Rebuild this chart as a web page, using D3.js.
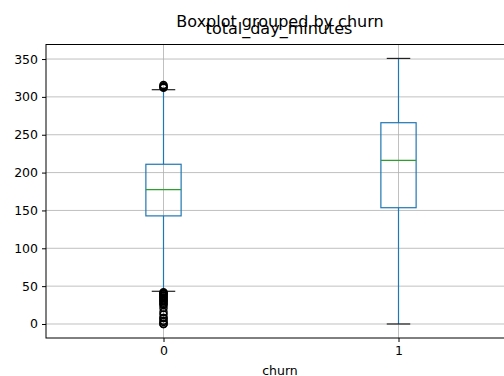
<!DOCTYPE html>
<html>
<head>
<meta charset="utf-8">
<script src="https://cdn.jsdelivr.net/npm/d3@7"></script>
<style>
  body { margin: 0; background: #fff; }
  svg { display: block; font-family: "DejaVu Sans", sans-serif; }
</style>
</head>
<body>
<div id="chart-area"></div>
<script>
// churn groups and box statistics of total_day_minutes
var groups = ["0", "1"];
var q1 = [142.8, 153.6];
var medians = [177.4, 216.2];
var q3 = [211.0, 265.9];
var whiskLow = [43.2, 0];
var whiskHigh = [309.5, 350.8];
var fliers = [
    [312.0, 313.2, 314.1, 315.6,
     0, 0, 2.6, 4.2, 7.8, 7.9, 12.5, 16.0, 21.0, 25.0, 26.5, 28.0, 29.9,
     30.9, 32.5, 34.0, 35.1, 36.5, 37.8, 39.5, 40.4, 40.9, 41.9],
    []
];
var yTicks = [0, 50, 100, 150, 200, 250, 300, 350];

var width = 504, height = 376;
var plot = { left: 46, right: 516, top: 44.5, bottom: 338 };

var svg = d3.select("#chart-area")
    .append("svg")
        .attr("width", width)
        .attr("height", height);

var x = d3.scaleLinear()
    .domain([-0.5, 1.5])
    .range([plot.left, plot.right]);
var y = d3.scaleLinear()
    .domain([-18.5, 369.2])
    .range([plot.bottom, plot.top]);

// Grid
var grid = svg.append("g").attr("stroke", "#b0b0b0").attr("stroke-width", 0.8);
yTicks.forEach(function(t){
    grid.append("line")
        .attr("x1", plot.left).attr("x2", plot.right)
        .attr("y1", y(t)).attr("y2", y(t));
});
groups.forEach(function(gr, i){
    grid.append("line")
        .attr("x1", x(i)).attr("x2", x(i))
        .attr("y1", plot.top).attr("y2", plot.bottom);
});

// Boxes
var halfW = 0.075;
groups.forEach(function(gr, i){
    var b = svg.append("g");
    b.append("line")
        .attr("x1", x(i)).attr("x2", x(i))
        .attr("y1", y(q1[i])).attr("y2", y(whiskLow[i]))
        .attr("stroke", "#1f77b4").attr("stroke-width", 1.2);
    b.append("line")
        .attr("x1", x(i)).attr("x2", x(i))
        .attr("y1", y(q3[i])).attr("y2", y(whiskHigh[i]))
        .attr("stroke", "#1f77b4").attr("stroke-width", 1.2);
    [whiskLow[i], whiskHigh[i]].forEach(function(v){
        b.append("line")
            .attr("x1", x(i - halfW / 2 - 0.0125)).attr("x2", x(i + halfW / 2 + 0.0125))
            .attr("y1", y(v)).attr("y2", y(v))
            .attr("stroke", "#222").attr("stroke-width", 1.2);
    });
    b.append("rect")
        .attr("x", x(i - halfW))
        .attr("y", y(q3[i]))
        .attr("width", x(i + halfW) - x(i - halfW))
        .attr("height", y(q1[i]) - y(q3[i]))
        .attr("fill", "none")
        .attr("stroke", "#1f77b4").attr("stroke-width", 1.2);
    b.append("line")
        .attr("x1", x(i - halfW)).attr("x2", x(i + halfW))
        .attr("y1", y(medians[i])).attr("y2", y(medians[i]))
        .attr("stroke", "#2ca02c").attr("stroke-width", 1.2);
    b.selectAll("circle").data(fliers[i]).enter()
        .append("circle")
        .attr("cx", x(i))
        .attr("cy", function(d){ return y(d); })
        .attr("r", 3.5)
        .attr("fill", "none")
        .attr("stroke", "#000")
        .attr("stroke-width", 1.5);
});

// Y Axis
var yAxisCall = d3.axisLeft(y)
    .tickValues(yTicks)
    .tickSize(4)
    .tickPadding(4);
var yAxis = svg.append("g")
    .attr("transform", "translate(" + plot.left + ",0)")
    .call(yAxisCall);
yAxis.select(".domain").remove();
yAxis.selectAll("text").attr("font-size", "12.5px").attr("fill", "#000")
    .attr("font-family", "DejaVu Sans");
yAxis.selectAll("line").attr("stroke", "#000");

// X Axis
var xAxisCall = d3.axisBottom(x)
    .tickValues([0, 1])
    .tickFormat(function(d, i){ return groups[i]; })
    .tickSize(4)
    .tickPadding(4);
var xAxis = svg.append("g")
    .attr("transform", "translate(0," + plot.bottom + ")")
    .call(xAxisCall);
xAxis.select(".domain").remove();
xAxis.selectAll("text").attr("font-size", "12.5px").attr("fill", "#000")
    .attr("font-family", "DejaVu Sans");
xAxis.selectAll("line").attr("stroke", "#000");

// Spines
svg.append("rect")
    .attr("x", plot.left).attr("y", plot.top)
    .attr("width", plot.right - plot.left)
    .attr("height", plot.bottom - plot.top)
    .attr("fill", "none")
    .attr("stroke", "#000").attr("stroke-width", 1);

// Titles
svg.append("text")
    .attr("x", 280).attr("y", 26.5)
    .attr("font-size", "16px")
    .attr("text-anchor", "middle")
    .text("Boxplot grouped by churn");
svg.append("text")
    .attr("x", 279).attr("y", 34)
    .attr("font-size", "16px")
    .attr("text-anchor", "middle")
    .text("total_day_minutes");
svg.append("text")
    .attr("x", 280).attr("y", 374.5)
    .attr("font-size", "12.5px")
    .attr("text-anchor", "middle")
    .text("churn");
</script>
</body>
</html>
